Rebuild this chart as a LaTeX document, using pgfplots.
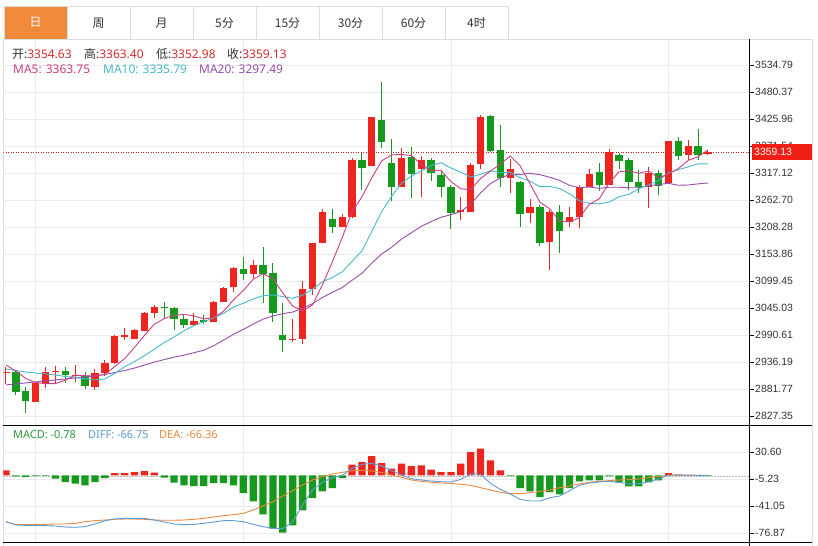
\documentclass[border=0pt]{standalone}
\usepackage{fontspec}
\setmainfont{Noto Sans}
\newfontfamily\cjk{Noto Sans CJK SC}
\newfontfamily\tickfont{Liberation Sans}
\usepackage{pgfplots}
\pgfplotsset{compat=1.18}
\usepackage{pgfplotstable}

\definecolor{cRed}{RGB}{238,36,30}
\definecolor{cGreen}{RGB}{22,154,30}
\definecolor{maFive}{RGB}{204,62,130}
\definecolor{maTen}{RGB}{70,185,205}
\definecolor{maTwenty}{RGB}{150,78,170}
\definecolor{txtRed}{RGB}{210,45,45}
\definecolor{txtDark}{RGB}{51,51,51}
\definecolor{gridc}{RGB}{234,234,234}
\definecolor{tabOrange}{RGB}{241,137,59}
\definecolor{tabBorder}{RGB}{221,221,221}
\definecolor{difBlue}{RGB}{95,155,215}
\definecolor{deaOrange}{RGB}{232,138,62}
\definecolor{macdGreen}{RGB}{45,150,60}
\definecolor{priceBox}{RGB}{240,30,20}

\pgfplotstableread{
k O H L C
0 2913.4 2926.7 2891.8 2916.6
3 2856.2 2894.5 2855.0 2893.9
4 2891.8 2926.7 2883.8 2916.6
5 2916.0 2928.1 2893.3 2918.7
7 2907.4 2930.2 2896.5 2910.0
9 2886.4 2921.5 2879.8 2914.6
10 2914.6 2940.2 2908.0 2933.6
11 2933.6 2990.6 2932.2 2988.6
12 2987.3 3004.1 2980.5 2990.6
13 2982.0 3002.1 2981.6 3000.7
14 2999.3 3036.9 2999.3 3034.3
15 3034.3 3051.0 3024.3 3047.6
19 3010.8 3035.6 3009.4 3019.5
21 3017.4 3060.0 3016.0 3058.1
22 3056.7 3087.7 3056.7 3085.7
23 3086.9 3127.3 3077.9 3125.2
25 3113.9 3141.8 3104.9 3132.1
29 2979.9 3022.2 2977.1 2982.0
30 2982.0 3099.4 2971.9 3082.7
31 3082.7 3176.6 3071.2 3175.4
32 3175.4 3243.9 3175.4 3237.9
34 3208.9 3233.9 3208.9 3229.0
35 3229.0 3347.3 3226.4 3343.3
37 3331.2 3430.6 3331.2 3429.4
40 3288.3 3366.9 3288.3 3348.0
42 3324.6 3351.4 3269.3 3343.3
46 3239.1 3268.1 3222.4 3242.5
47 3239.1 3337.3 3239.1 3333.2
48 3335.3 3434.0 3324.6 3430.6
51 3306.4 3344.7 3276.2 3325.2
53 3237.1 3264.1 3217.0 3249.2
55 3178.6 3242.5 3121.6 3239.1
57 3217.8 3249.2 3207.7 3229.0
58 3229.0 3292.9 3205.7 3288.3
59 3289.5 3324.6 3289.5 3314.5
61 3292.9 3364.9 3292.9 3360.1
65 3288.3 3329.8 3246.0 3316.5
67 3296.4 3381.6 3296.4 3381.6
69 3353.4 3383.6 3343.3 3371.7
71 3354.63 3363.40 3352.98 3359.13
}\upTable

\pgfplotstableread{
k O H L C
1 2916.6 2920.1 2869.7 2876.3
2 2878.3 2885.8 2833.4 2858.2
6 2918.0 2925.5 2893.3 2910.0
8 2908.0 2915.4 2881.2 2887.9
16 3047.6 3056.5 3024.3 3045.6
17 3044.4 3047.6 3000.7 3022.3
18 3022.3 3031.0 3004.1 3010.8
20 3020.8 3031.0 3012.8 3017.4
24 3124.6 3148.4 3101.5 3113.9
26 3132.1 3168.6 3055.5 3113.9
27 3115.9 3136.3 3017.4 3035.6
28 2990.6 3055.5 2957.0 2980.5
33 3224.4 3243.9 3195.6 3208.9
36 3343.3 3358.0 3282.9 3326.6
38 3423.9 3501.1 3366.9 3380.2
39 3337.9 3385.6 3261.3 3288.3
41 3350.0 3370.1 3266.1 3315.1
43 3343.3 3346.7 3301.0 3316.5
44 3313.1 3321.1 3268.1 3288.3
45 3288.3 3292.9 3203.6 3235.9
49 3432.0 3434.0 3359.4 3362.1
50 3363.5 3413.9 3289.5 3306.4
52 3298.6 3301.0 3208.9 3233.9
54 3249.2 3252.6 3170.0 3176.6
56 3237.9 3252.6 3155.3 3200.2
60 3318.5 3337.9 3281.4 3292.9
62 3353.4 3356.8 3324.6 3341.3
63 3343.3 3348.0 3282.9 3299.6
64 3299.6 3323.2 3277.4 3288.3
66 3317.7 3323.2 3272.8 3290.9
68 3381.6 3390.3 3343.3 3352.0
70 3371.7 3405.2 3343.3 3353.4
}\downTable

\pgfplotstableread{
k MA5 MA10 MA20
0 2930.0 2922.0 2890.0
1 2918.0 2919.0 2892.0
2 2903.0 2916.0 2894.0
3 2895.0 2914.0 2896.0
4 2892.3 2912.0 2898.0
5 2892.7 2910.0 2900.0
6 2899.5 2907.0 2902.0
7 2909.8 2905.0 2904.0
8 2908.6 2902.0 2906.0
9 2908.2 2900.3 2908.0
10 2911.2 2902.0 2911.0
11 2926.9 2913.2 2915.0
12 2943.1 2926.4 2919.0
13 2965.6 2937.1 2924.0
14 2989.6 2948.9 2930.0
15 3012.4 2961.8 2936.0
16 3023.8 2975.4 2941.0
17 3030.1 2986.6 2946.0
18 3032.1 2998.9 2950.0
19 3029.2 3009.4 2954.8
20 3023.1 3017.7 2959.9
21 3025.6 3024.7 2969.0
22 3038.3 3034.2 2980.3
23 3061.2 3046.7 2991.9
24 3080.1 3054.6 3001.8
25 3103.0 3063.1 3012.4
26 3114.2 3069.9 3022.6
27 3104.1 3071.2 3028.9
28 3075.2 3068.2 3033.5
29 3048.8 3064.4 3036.9
30 3038.9 3071.0 3044.4
31 3051.2 3082.7 3053.7
32 3091.7 3097.9 3066.1
33 3137.4 3106.3 3076.5
34 3186.8 3117.8 3086.2
35 3238.9 3138.9 3101.0
36 3269.1 3160.2 3115.0
37 3307.4 3199.6 3135.4
38 3341.7 3239.5 3153.9
39 3353.6 3270.2 3167.3
40 3354.5 3296.7 3183.8
41 3352.2 3310.7 3196.7
42 3335.0 3321.2 3209.6
43 3322.2 3332.0 3219.1
44 3322.2 3337.9 3227.9
45 3299.8 3327.2 3233.0
46 3285.3 3318.8 3239.5
47 3283.3 3309.1 3254.4
48 3306.1 3314.2 3276.9
49 3320.9 3321.6 3295.9
50 3335.0 3317.4 3307.0
51 3351.5 3318.4 3314.5
52 3331.6 3307.5 3314.3
53 3295.4 3300.7 3316.4
54 3258.3 3289.6 3313.7
55 3244.8 3289.9 3308.5
56 3219.8 3285.7 3302.2
57 3218.8 3275.2 3292.2
58 3226.6 3261.0 3287.6
59 3254.2 3256.2 3288.9
60 3265.0 3254.9 3286.1
61 3297.0 3258.4 3288.4
62 3319.4 3269.1 3288.3
63 3321.7 3274.2 3287.4
64 3316.4 3285.3 3287.4
65 3321.2 3293.1 3291.5
66 3307.3 3302.1 3293.9
67 3315.4 3317.4 3296.3
68 3325.9 3323.8 3292.4
69 3342.5 3329.5 3292.9
70 3349.9 3335.5 3295.2
71 3363.6 3335.4 3296.9
}\maTable

\pgfplotstableread{
k M DIF DEA
0 6.6 -61.4 -61.9
1 -1.3 -65.8 -65.0
2 -2.3 -66.3 -65.4
3 -0.7 -66.3 -65.4
4 -0.7 -66.7 -65.0
5 -4.4 -67.2 -64.5
6 -8.9 -68.5 -64.5
7 -11.0 -68.9 -63.6
8 -13.3 -68.0 -61.4
9 -8.9 -64.5 -60.1
10 -3.6 -60.1 -59.2
11 3.1 -57.9 -58.3
12 3.1 -57.0 -57.9
13 4.4 -57.0 -57.9
14 5.7 -57.0 -58.3
15 3.6 -59.2 -59.2
16 -3.1 -61.9 -59.6
17 -9.7 -64.5 -59.6
18 -13.3 -65.4 -59.2
19 -14.2 -65.0 -58.3
20 -14.2 -63.6 -57.0
21 -10.2 -61.9 -55.2
22 -10.2 -60.1 -53.5
23 -13.3 -60.1 -52.1
24 -23.5 -61.4 -50.4
25 -34.5 -65.0 -45.9
26 -51.7 -68.0 -40.6
27 -70.7 -70.3 -34.9
28 -76.0 -70.7 -27.4
29 -66.3 -61.4 -20.3
30 -46.4 -39.3 -12.8
31 -30.1 -19.4 -6.1
32 -21.2 -9.2 -1.7
33 -16.8 -3.0 1.8
34 -3.6 0.1 4.0
35 14.2 9.3 6.2
36 17.6 14.6 6.7
37 25.6 16.0 5.8
38 16.3 12.4 3.6
39 8.9 6.2 0.5
40 15.5 0.5 -2.6
41 12.3 -4.4 -6.1
42 13.3 -6.1 -7.9
43 7.6 -7.5 -9.2
44 4.4 -8.4 -10.1
45 4.4 -8.8 -10.6
46 15.5 -5.3 -11.9
47 30.9 1.8 -13.2
48 35.4 1.4 -16.3
49 19.9 -10.6 -19.4
50 6.6 -18.5 -22.5
51 -0.7 -24.7 -24.3
52 -16.8 -31.8 -24.3
53 -21.2 -34.0 -22.9
54 -28.8 -34.0 -21.2
55 -22.2 -29.6 -19.4
56 -25.2 -27.4 -16.3
57 -16.8 -20.3 -14.1
58 -8.0 -13.2 -11.4
59 -6.6 -10.1 -9.2
60 -6.6 -8.8 -7.9
61 -0.9 -7.9 -7.0
62 -9.7 -9.2 -6.1
63 -14.6 -11.4 -5.7
64 -14.6 -11.0 -4.8
65 -9.3 -8.4 -3.0
66 -6.6 -4.8 -1.7
67 3.1 0.5 0.1
68 0.9 0.5 0.5
69 0.4 0.1 0.5
70 0.4 0.1 0.1
71 -0.78 -0.4 0.1
}\macdTable

\newcommand\legfont{\fontsize{12}{14}\selectfont}
\newcommand\macdfont{\fontsize{11}{13}\selectfont}
\newcommand\tabfont{\cjk\fontsize{12}{14}\selectfont}
\newcommand\tickfnt{\tickfont\fontsize{10.5}{12}\selectfont}

\pgfplotsset{
  candle/.style 2 args={draw=none, mark=none, forget plot,
    error bars/.cd, y dir=plus, y explicit, error mark=none,
    error bar style={draw=#1, solid, opacity=1, line width=#2}},
}

\begin{document}
\begin{tikzpicture}[x=1bp,y=1bp]
\useasboundingbox (0,0) rectangle (818,546);
\fill[white] (0,0) rectangle (818,546);
% tabs
\fill[tabOrange] (4,{546-39}) rectangle (67,{546-6.7});
\foreach \i in {0,...,7} {
  \draw[tabBorder, line width=0.8bp] ({4+63*\i},{546-39}) rectangle ({4+63*(\i+1)},{546-6.7});
}
\node[font=\tabfont, text=white] at (35.5,{546-22.8}) {日};
\foreach \i/\lab in {1/周,2/月,3/5分,4/15分,5/30分,6/60分,7/4时} {
  \node[font=\tabfont, text=txtDark] at ({4+63*\i+31.5},{546-22.8}) {\lab};
}
% container
\draw[tabBorder, line width=0.8bp] (3.3,0) -- (3.3,{546-39}) -- (812.3,{546-39}) -- (812.3,0);

% ---------- main price panel ----------
\begin{axis}[
  at={(3.3bp,120.5bp)}, anchor=south west, scale only axis,
  width=745.7bp, height=385.5bp,
  xmin=-0.273, xmax=75.15, ymin=2808.2, ymax=3585.18,
  axis line style={draw=none},
  xtick={3,24,45,67}, xticklabels={}, x tick style={draw=none},
  xmajorgrids, ymajorgrids,
  grid style={draw=gridc, line width=0.8bp},
  ytick={2827.35,2881.77,2936.19,2990.61,3045.03,3099.45,3153.86,3208.28,3262.70,3317.12,3371.54,3425.96,3480.37,3534.79},
  yticklabels={2827.35,2881.77,2936.19,2990.61,3045.03,3099.45,3153.86,3208.28,3262.70,3317.12,3371.54,3425.96,3480.37,3534.79},
  ytick pos=right, yticklabel pos=right,
  tick align=outside, major tick length=4.5bp,
  y tick style={draw=black, line width=0.8bp},
  yticklabel style={font=\tickfnt, text=txtDark, anchor=west, inner sep=1.5bp},
]
% current price line
\addplot[priceBox!85!black, line width=0.8bp, dash pattern=on 1bp off 1.5bp] coordinates {(-0.3,3359.13) (75.2,3359.13)};
% wicks
\addplot[candle={cRed}{1bp}] table[x=k, y=L, y error plus expr=\thisrow{H}-\thisrow{L}] {\upTable};
\addplot[candle={cGreen}{1bp}] table[x=k, y=L, y error plus expr=\thisrow{H}-\thisrow{L}] {\downTable};
% bodies
\addplot[candle={cRed}{7.3bp}] table[x=k, y=O, y error plus expr=\thisrow{C}-\thisrow{O}] {\upTable};
\addplot[candle={cGreen}{7.3bp}] table[x=k, y=C, y error plus expr=\thisrow{O}-\thisrow{C}] {\downTable};
% moving averages
\addplot[maTwenty, line width=0.9bp] table[x=k, y=MA20] {\maTable};
\addplot[maTen, line width=0.9bp] table[x=k, y=MA10] {\maTable};
\addplot[maFive, line width=0.9bp] table[x=k, y=MA5] {\maTable};
\end{axis}

% ---------- MACD panel ----------
\begin{axis}[
  at={(3.3bp,3.3bp)}, anchor=south west, scale only axis,
  width=745.7bp, height=117.2bp,
  xmin=-0.273, xmax=75.15, ymin=-89.31, ymax=66.16,
  axis line style={draw=none},
  xtick={3,24,45,67}, xticklabels={}, x tick style={draw=none},
  xmajorgrids, ymajorgrids,
  grid style={draw=gridc, line width=0.8bp},
  ytick={-76.87,-41.05,-5.23,30.60},
  yticklabels={-76.87,-41.05,-5.23,30.60},
  ytick pos=right, yticklabel pos=right,
  tick align=outside, major tick length=4.5bp,
  y tick style={draw=black, line width=0.8bp},
  yticklabel style={font=\tickfnt, text=txtDark, anchor=west, inner sep=1.5bp},
]
\addplot[gray!55, line width=0.8bp, dash pattern=on 1.5bp off 1.5bp] coordinates {(-0.3,-0.78) (75.2,-0.78)};
\addplot[ybar, bar width=7.3bp, bar shift=0pt, fill=cRed, draw=none, restrict y to domain=0:1000]
  table[x=k, y=M] {\macdTable};
\addplot[ybar, bar width=7.3bp, bar shift=0pt, fill=cGreen, draw=none, restrict y to domain=-1000:0]
  table[x=k, y=M] {\macdTable};
\addplot[deaOrange, line width=0.9bp] table[x=k, y=DEA] {\macdTable};
\addplot[difBlue, line width=0.9bp] table[x=k, y=DIF] {\macdTable};
\end{axis}

% frame lines
\draw[black, line width=0.9bp] (749,0) -- (749,{546-39});
\draw[black, line width=0.9bp] (3.3,{546-425.5}) -- (812.3,{546-425.5});
\draw[black, line width=0.9bp] (3.3,{546-542.7}) -- (812.3,{546-542.7});

% current price box
\fill[priceBox] (751.5,{546-160.5}) rectangle (812,{546-144});
\node[anchor=west, inner sep=0, font=\tickfnt, text=white] at (754,{546-152.3}) {3359.13};

% legends
\node[anchor=base west, inner sep=0, font=\legfont, text=txtDark] at (12,{546-58.3}) {{\cjk 开}:\textcolor{txtRed}{3354.63}};
\node[anchor=base west, inner sep=0, font=\legfont, text=txtDark] at (84,{546-58.3}) {{\cjk 高}:\textcolor{txtRed}{3363.40}};
\node[anchor=base west, inner sep=0, font=\legfont, text=txtDark] at (156,{546-58.3}) {{\cjk 低}:\textcolor{txtRed}{3352.98}};
\node[anchor=base west, inner sep=0, font=\legfont, text=txtDark] at (227,{546-58.3}) {{\cjk 收}:\textcolor{txtRed}{3359.13}};

\node[anchor=base west, inner sep=0, font=\legfont, text=maFive] at (13,{546-74}) {MA5: 3363.75};
\node[anchor=base west, inner sep=0, font=\legfont, text=maTen] at (103,{546-74}) {MA10: 3335.79};
\node[anchor=base west, inner sep=0, font=\legfont, text=maTwenty] at (199,{546-74}) {MA20: 3297.49};

\node[anchor=base west, inner sep=0, font=\macdfont, text=macdGreen] at (13,{546-439}) {MACD: -0.78};
\node[anchor=base west, inner sep=0, font=\macdfont, text=difBlue] at (88,{546-439}) {DIFF: -66.75};
\node[anchor=base west, inner sep=0, font=\macdfont, text=deaOrange] at (159,{546-439}) {DEA: -66.36};
\end{tikzpicture}
\end{document}
